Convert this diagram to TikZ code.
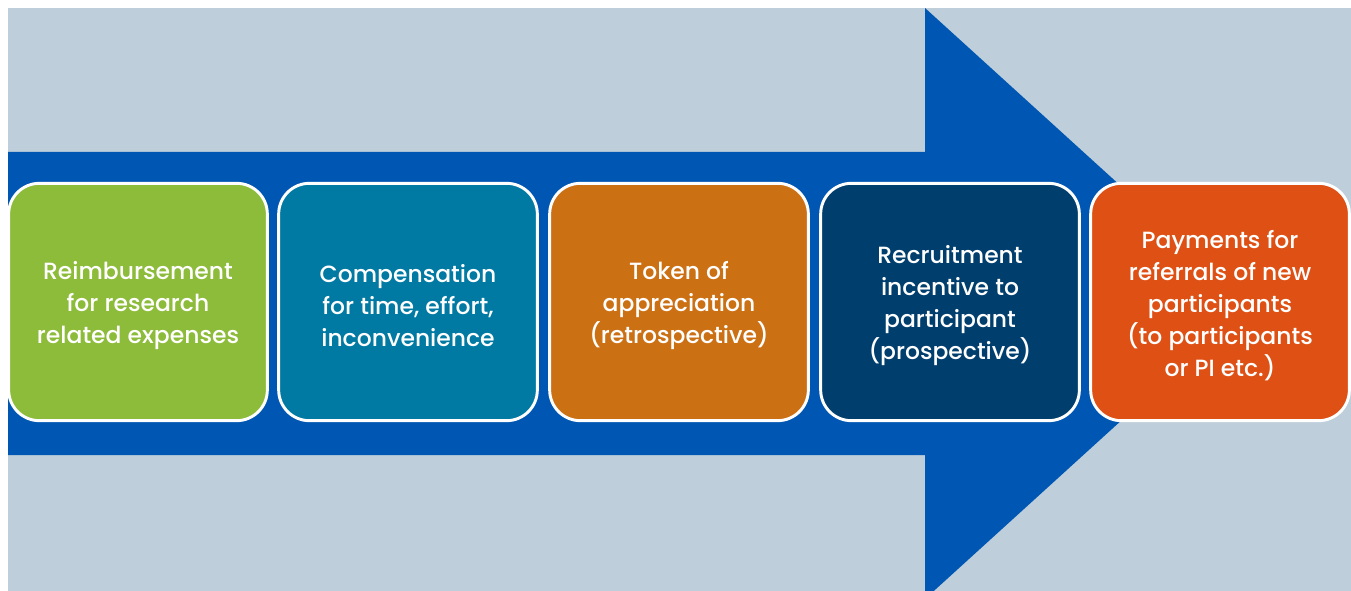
\documentclass[tikz,border=0pt]{standalone}
\usepackage{fontspec}
\setmainfont{Poppins Medium}
\definecolor{bgblue}{HTML}{BECFDB}
\definecolor{arrowblue}{HTML}{0056B3}
\definecolor{cgreen}{HTML}{8DBB3A}
\definecolor{cteal}{HTML}{0079A3}
\definecolor{corange}{HTML}{CC7014}
\definecolor{cnavy}{HTML}{003E6E}
\definecolor{cred}{HTML}{DE5014}
\tikzset{
  stagebox/.style={draw=white, line width=2.2pt, rounded corners=23pt,
    minimum width=194pt, minimum height=178pt, inner sep=0pt},
  stagetext/.style={inner sep=0pt, text=white, align=center,
    font=\fontsize{17.6pt}{24pt}\selectfont},
}
\begin{document}
\begin{tikzpicture}[x=0.75pt, y=-0.75pt]
  \useasboundingbox (0,0) rectangle (1351,591);
  % backdrop
  \fill[bgblue] (8,8) rectangle (1351,591);
  % large arrow behind the stages
  \begin{scope}
    \clip (8,8) rectangle (1351,591);
    \fill[arrowblue] (8,152) -- (925,152) -- (925,8) -- (1250,303.5)
      -- (925,599) -- (925,455) -- (8,455) -- cycle;
  \end{scope}
  % stage boxes
  \node[stagebox, fill=cgreen]  (s1) at (138,302) {};
  \node[stagebox, fill=cteal]   (s2) at (408,302) {};
  \node[stagebox, fill=corange] (s3) at (679,302) {};
  \node[stagebox, fill=cnavy]   (s4) at (950,302) {};
  \node[stagebox, fill=cred]    (s5) at (1220,302) {};
  % stage labels, set slightly below the box centres
  \node[stagetext] (t1) at ([yshift=-2.4pt]s1.center) {Reimbursement\\for research\\related expenses};
  \node[stagetext] (t2) at ([yshift=-2.4pt]s2.center) {Compensation\\for time, effort,\\inconvenience};
  \node[stagetext] (t3) at ([yshift=-2.4pt]s3.center) {Token of\\appreciation\\(retrospective)};
  \node[stagetext] (t4) at ([yshift=-2.4pt]s4.center) {Recruitment\\incentive to\\participant\\(prospective)};
  \node[stagetext] (t5) at ([yshift=-2.4pt]s5.center) {Payments for\\referrals of new\\participants\\(to participants\\or PI etc.)};
\end{tikzpicture}
\end{document}
